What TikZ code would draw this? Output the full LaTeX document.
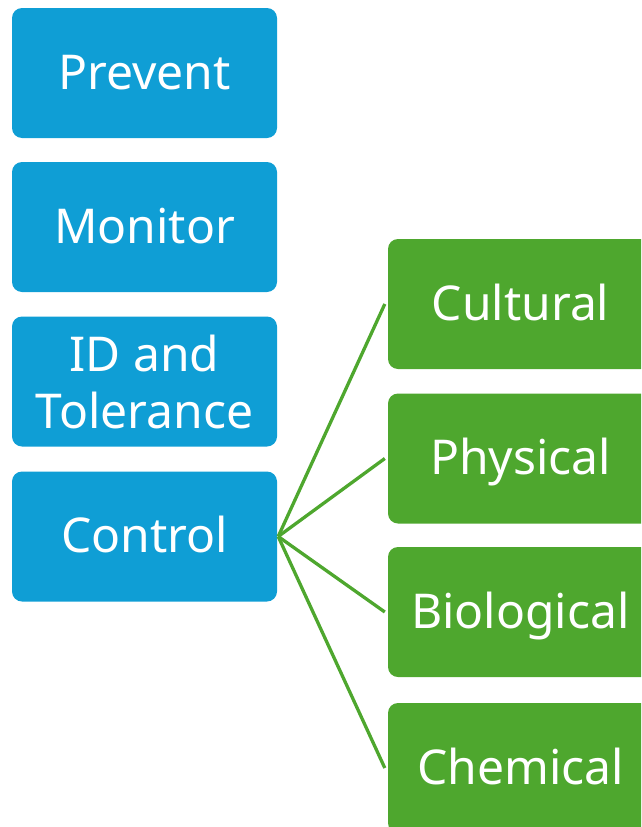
\documentclass[tikz,border=0pt]{standalone}
\usepackage{fontspec}
\setmainfont{Noto Sans}
\definecolor{boxblue}{HTML}{0F9ED5}
\definecolor{boxgreen}{HTML}{4EA72E}
\begin{document}
\begin{tikzpicture}[x=1pt,y=-1pt,
  basebox/.style={draw=none, rounded corners=10pt, minimum width=265pt, minimum height=130pt, inner sep=0pt, text=white, align=center, font=\fontsize{48}{57}\selectfont},
  blbox/.style={basebox, fill=boxblue},
  grbox/.style={basebox, fill=boxgreen},
  oneline/.style={text height=32pt, text depth=0pt},
  link/.style={draw=boxgreen, line width=3.3pt}]
\useasboundingbox (0,0) rectangle (641,827);
\begin{scope}
\clip (0,0) rectangle (641,827);
\node[blbox, oneline] (prevent) at (144.5,73) {Prevent};
\node[blbox, oneline] (monitor) at (144.5,227) {Monitor};
\node[blbox] (id) at (144.5,381.5) {ID and\\Tolerance};
\node[blbox, oneline] (control) at (144.5,536.5) {Control};
\node[grbox, oneline] (cultural) at (520.5,304) {Cultural};
\node[grbox, oneline] (physical) at (520.5,458.5) {Physical};
\node[grbox, oneline] (biological) at (520.5,612) {Biological};
\node[grbox, oneline] (chemical) at (520.5,768) {Chemical};
\coordinate (o) at ([xshift=1pt]control.east);
\foreach \t in {cultural,physical,biological,chemical}{
  \draw[link] (o) -- ([xshift=-3pt]\t.west);
}
\end{scope}
\end{tikzpicture}
\end{document}
